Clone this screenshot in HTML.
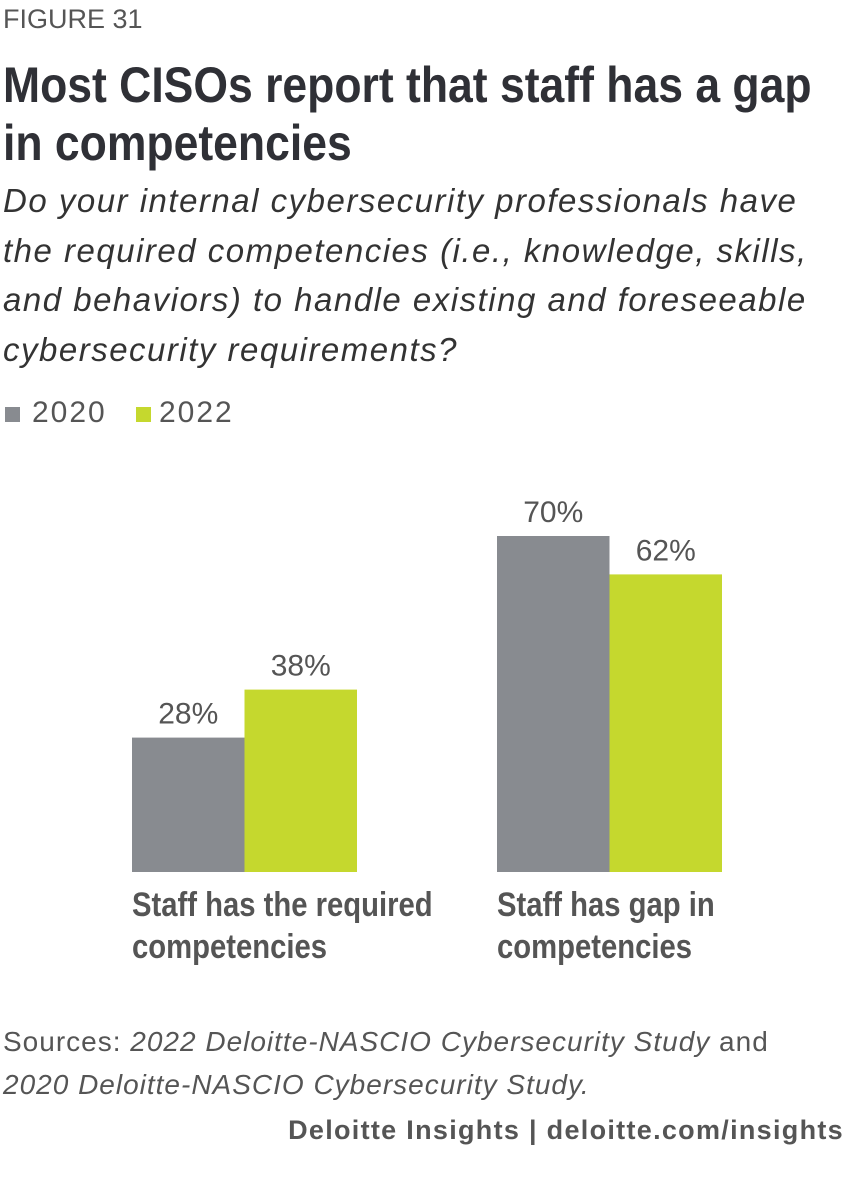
<!DOCTYPE html>
<html><head><meta charset="utf-8"><style>
body{margin:0;width:854px;height:1181px;background:#fff;font-family:"Liberation Sans",sans-serif;color:#2f2f33;position:relative;overflow:hidden}
.abs{position:absolute;white-space:nowrap}
.narrow{display:inline-block;transform:scaleX(0.89);transform-origin:left top}
.narrow2{display:inline-block;transform:scaleX(0.86);transform-origin:left top}
</style></head><body>
<div class="abs" style="left:3px;top:4px;font-size:27px;color:#555;">FIGURE 31</div>
<div class="abs" style="left:3px;top:56px;font-size:50px;font-weight:bold;line-height:58px;color:#2f3036"><span class="narrow">Most CISOs report that staff has a gap<br>in competencies</span></div>
<div class="abs" style="left:3px;top:176px;font-size:33px;letter-spacing:1.5px;font-style:italic;line-height:49.5px;color:#333">Do your internal cybersecurity professionals have<br>the required competencies (i.e., knowledge, skills,<br>and behaviors) to handle existing and foreseeable<br>cybersecurity requirements?</div>
<div class="abs" style="left:5px;top:396px;font-size:30px;letter-spacing:2px;color:#555"><span style="display:inline-block;width:15px;height:15px;background:#888b90;margin-right:12px"></span>2020</div>
<div class="abs" style="left:136px;top:396px;font-size:30px;letter-spacing:2px;color:#555"><span style="display:inline-block;width:15px;height:15px;background:#c5d82e;margin-right:8px"></span>2022</div>
<svg id="chart" class="abs" style="left:0;top:0" width="854" height="1000"></svg>
<div class="abs" style="left:132px;top:884px;font-size:34px;font-weight:bold;line-height:42px;color:#555"><span class="narrow2">Staff has the required<br>competencies</span></div>
<div class="abs" style="left:497px;top:884px;font-size:34px;font-weight:bold;line-height:42px;color:#555"><span class="narrow2">Staff has gap in<br>competencies</span></div>
<div class="abs" style="left:3px;top:1020px;font-size:28px;letter-spacing:1px;line-height:43px;color:#555">Sources: <i>2022 Deloitte-NASCIO Cybersecurity Study</i> and<br><i>2020 Deloitte-NASCIO Cybersecurity Study.</i></div>
<div class="abs" style="right:10px;top:1115px;font-size:27px;letter-spacing:1.3px;font-weight:bold;color:#555">Deloitte Insights | deloitte.com/insights</div>
<script>
const categories=["Staff has the required competencies","Staff has gap in competencies"];
const values2020=[28,70];
const values2022=[38,62];
const labels2020=["28%","70%"];
const labels2022=["38%","62%"];
const svg=document.getElementById('chart');
const NS="http://www.w3.org/2000/svg";
const base=872, scale=4.8;
const y=v=>base-v*scale;
const groupX=[132,497], bw=112.5;
function add(tag,attrs,text){const e=document.createElementNS(NS,tag);for(const k in attrs)e.setAttribute(k,attrs[k]);if(text)e.textContent=text;svg.appendChild(e);return e;}
categories.forEach((c,i)=>{
 [[values2020,labels2020,"#888b90",0],[values2022,labels2022,"#c5d82e",1]].forEach(([vals,labs,col,j])=>{
  const x=groupX[i]+j*bw;
  const r=add('rect',{x:x,y:y(vals[i]),width:bw,height:base-y(vals[i]),fill:col});
  
  
  const t=add('text',{x:x+bw/2,y:y(vals[i])-14,'text-anchor':'middle','font-size':30,fill:'#555','font-family':'Liberation Sans, sans-serif'},labs[i]);
  
  
 });
});
</script>
</body></html>
